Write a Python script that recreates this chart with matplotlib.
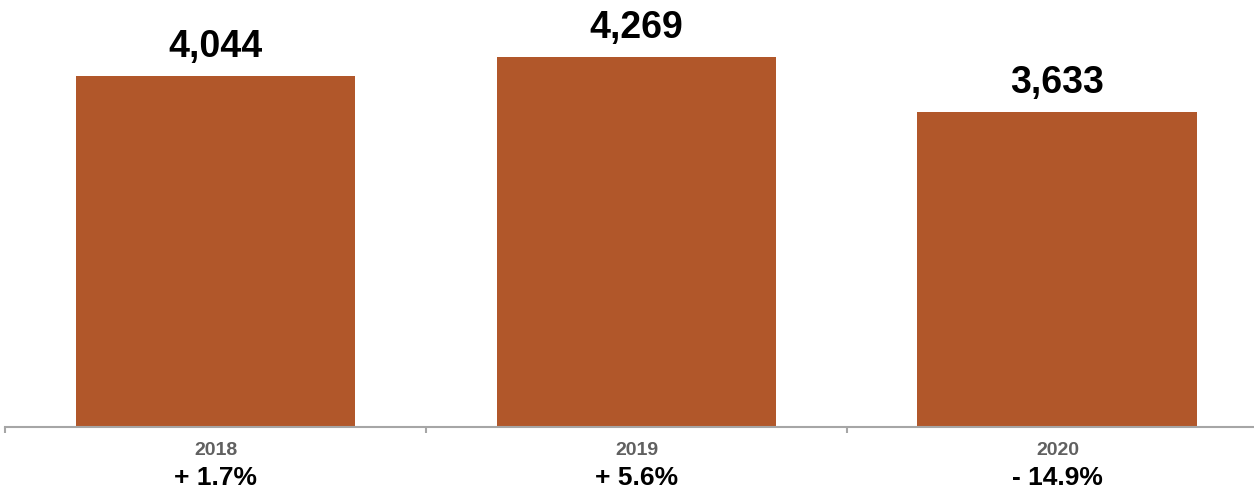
import matplotlib.pyplot as plt

years = ['2018', '2019', '2020']
values = [4044, 4269, 3633]
changes = ['+ 1.7%', '+ 5.6%', '- 14.9%']

plt.rcParams['font.family'] = ['Liberation Sans', 'DejaVu Sans']

fig = plt.figure(figsize=(12.54, 4.92), dpi=100)
ax = fig.add_axes([0, 65 / 492, 1, 427 / 492])

x = list(range(len(years)))
bars = ax.bar(x, values, width=0.665, color='#B1572A', zorder=2)

ax.set_xlim(-0.512, 2.467)
ax.set_ylim(0, 4925)

for bar, val in zip(bars, values):
    ax.annotate(f'{val:,}', (bar.get_x() + bar.get_width() / 2, bar.get_height()),
                xytext=(0, 13.7), textcoords='offset points',
                ha='center', va='baseline', fontsize=27, fontweight='bold', color='black')

trans = ax.get_xaxis_transform()
for xi, yr, ch in zip(x, years, changes):
    ax.annotate(yr, (xi, 0), xycoords=trans, xytext=(0, -20.2), textcoords='offset points',
                ha='center', va='baseline', fontsize=14, fontweight='bold', color='#606060')
    ax.annotate(ch, (xi, 0), xycoords=trans, xytext=(0, -41.8), textcoords='offset points',
                ha='center', va='baseline', fontsize=19, fontweight='bold', color='black')

for side in ['top', 'right', 'left']:
    ax.spines[side].set_visible(False)
ax.spines['bottom'].set_color('#A6A6A6')
ax.spines['bottom'].set_linewidth(1.5)
ax.spines['bottom'].set_bounds(-0.5, 2.467)
ax.set_yticks([])
ax.set_xticks([])
ax.set_xticks([-0.5, 0.5, 1.5], minor=True)
ax.tick_params(axis='x', which='minor', length=4.5, width=1.5, color='#A6A6A6', labelbottom=False)

fig.savefig('out.png', dpi=100)
